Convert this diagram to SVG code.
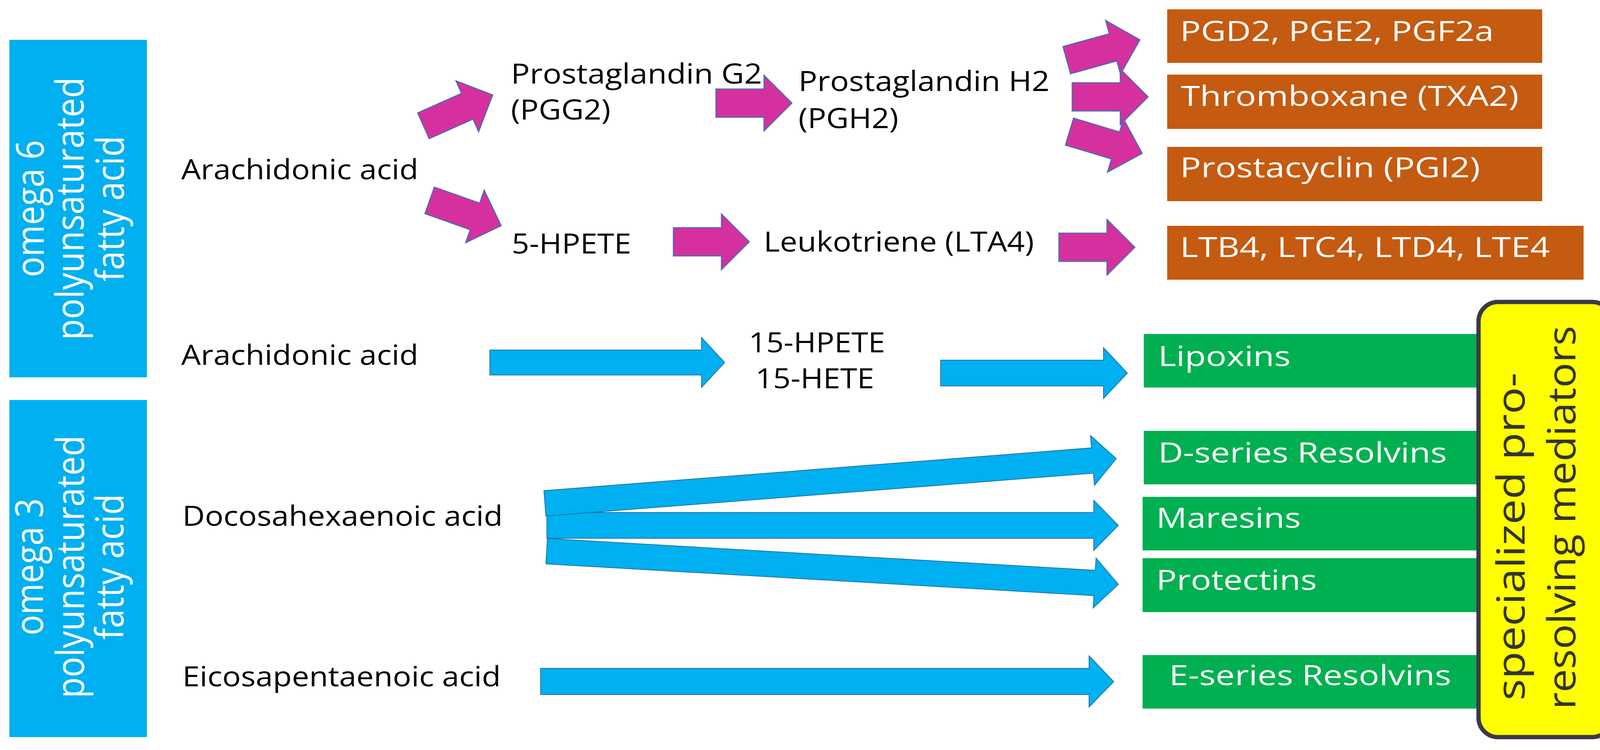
<svg xmlns="http://www.w3.org/2000/svg" xmlns:xlink="http://www.w3.org/1999/xlink" width="4157" height="1920" viewBox="0 0 4157 1920">
<style>
.lbl{font-family:"Open Sans","Noto Sans","Liberation Sans",sans-serif;font-size:72px;font-weight:500;fill:#000}
.wt{font-family:"Open Sans","Noto Sans","Liberation Sans",sans-serif;font-size:72px;font-weight:500;fill:#fff}
.vt{font-family:"Open Sans","Noto Sans","Liberation Sans",sans-serif;font-size:98px;fill:#fff;text-anchor:middle}
.yt{font-family:"Open Sans","Noto Sans","Liberation Sans",sans-serif;font-size:98px;font-weight:500;fill:#333}
.side{fill:#00b0f0}
.orange{fill:#c55a11}
.green{fill:#00b050}
.pink{fill:#d6309e;stroke:#4f6bb0;stroke-width:3;stroke-linejoin:miter}
.blue{fill:#00b0f0;stroke:#1f6fa8;stroke-width:2;stroke-linejoin:miter}
</style>
<defs>
<polygon id="pa" points="0,-36 123,-36 123,-71 194,0 123,71 123,36 0,36"/>
</defs>
<rect width="4157" height="1920" fill="#fff"/>

<g id="omega6">
<rect class="side" x="24" y="102" width="352" height="864"/>
<text class="vt" transform="translate(112,534) rotate(-90)" textLength="351" lengthAdjust="spacingAndGlyphs">omega 6</text>
<text class="vt" transform="translate(214,534) rotate(-90)" textLength="673" lengthAdjust="spacingAndGlyphs">polyunsaturated</text>
<text class="vt" transform="translate(317,534) rotate(-90)" textLength="373" lengthAdjust="spacingAndGlyphs">fatty acid</text>
</g>
<g id="omega3">
<rect class="side" x="24" y="1024" width="352" height="863"/>
<text class="vt" transform="translate(110,1451) rotate(-90)" textLength="351" lengthAdjust="spacingAndGlyphs">omega 3</text>
<text class="vt" transform="translate(215,1451) rotate(-90)" textLength="673" lengthAdjust="spacingAndGlyphs">polyunsaturated</text>
<text class="vt" transform="translate(316,1451) rotate(-90)" textLength="373" lengthAdjust="spacingAndGlyphs">fatty acid</text>
</g>

<g id="aa1"><text class="lbl" x="464" y="459" textLength="607" lengthAdjust="spacingAndGlyphs">Arachidonic acid</text></g>
<g id="pgg2"><text class="lbl" x="1308" y="214" textLength="643" lengthAdjust="spacingAndGlyphs">Prostaglandin G2</text><text class="lbl" x="1308" y="306" textLength="255" lengthAdjust="spacingAndGlyphs">(PGG2)</text></g>
<g id="pgh2"><text class="lbl" x="2044" y="233" textLength="643" lengthAdjust="spacingAndGlyphs">Prostaglandin H2</text><text class="lbl" x="2044" y="328" textLength="256" lengthAdjust="spacingAndGlyphs">(PGH2)</text></g>
<g id="hpete5"><text class="lbl" x="1310" y="649" textLength="306" lengthAdjust="spacingAndGlyphs">5-HPETE</text></g>
<g id="lta4"><text class="lbl" x="1955" y="644" textLength="692" lengthAdjust="spacingAndGlyphs">Leukotriene (LTA4)</text></g>
<g id="aa2"><text class="lbl" x="464" y="934" textLength="607" lengthAdjust="spacingAndGlyphs">Arachidonic acid</text></g>
<g id="hpete15"><text class="lbl" x="1917" y="902" textLength="349" lengthAdjust="spacingAndGlyphs">15-HPETE</text><text class="lbl" x="1934" y="994" textLength="304" lengthAdjust="spacingAndGlyphs">15-HETE</text></g>
<g id="dha"><text class="lbl" x="467" y="1346" textLength="820" lengthAdjust="spacingAndGlyphs">Docosahexaenoic acid</text></g>
<g id="epa"><text class="lbl" x="467" y="1757" textLength="815" lengthAdjust="spacingAndGlyphs">Eicosapentaenoic acid</text></g>

<g id="pgd2"><rect class="orange" x="2988" y="24" width="960" height="137"/><text class="wt" x="3021" y="105" textLength="803" lengthAdjust="spacingAndGlyphs">PGD2, PGE2, PGF2a</text></g>
<g id="txa2"><rect class="orange" x="2988" y="191" width="960" height="139"/><text class="wt" x="3023" y="271" textLength="865" lengthAdjust="spacingAndGlyphs">Thromboxane (TXA2)</text></g>
<g id="pgi2"><rect class="orange" x="2988" y="376" width="960" height="139"/><text class="wt" x="3021" y="454" textLength="768" lengthAdjust="spacingAndGlyphs">Prostacyclin (PGI2)</text></g>
<g id="ltb4"><rect class="orange" x="2988" y="578" width="1066" height="138"/><text class="wt" x="3021" y="658" textLength="947" lengthAdjust="spacingAndGlyphs">LTB4, LTC4, LTD4, LTE4</text></g>

<g id="lipoxins"><rect class="green" x="2928" y="855" width="862" height="137"/><text class="wt" x="2965" y="937" textLength="339" lengthAdjust="spacingAndGlyphs">Lipoxins</text></g>
<g id="dresolvins"><rect class="green" x="2928" y="1103" width="862" height="137"/><text class="wt" x="2965" y="1184" textLength="739" lengthAdjust="spacingAndGlyphs">D-series Resolvins</text></g>
<g id="maresins"><rect class="green" x="2925" y="1272" width="865" height="137"/><text class="wt" x="2960" y="1351" textLength="370" lengthAdjust="spacingAndGlyphs">Maresins</text></g>
<g id="protectins"><rect class="green" x="2925" y="1429" width="865" height="138"/><text class="wt" x="2960" y="1510" textLength="411" lengthAdjust="spacingAndGlyphs">Protectins</text></g>
<g id="eresolvins"><rect class="green" x="2925" y="1677" width="865" height="137"/><text class="wt" x="2993" y="1754" textLength="722" lengthAdjust="spacingAndGlyphs">E-series Resolvins</text></g>

<g id="spm">
<rect x="3785" y="773" width="341" height="1114" rx="50" ry="50" fill="#ffff00" stroke="#3a3a44" stroke-width="11"/>
<text class="yt" transform="translate(3903,1793) rotate(-90)" textLength="839" lengthAdjust="spacingAndGlyphs">specialized pro-</text>
<text class="yt" transform="translate(4033,1816) rotate(-90)" textLength="982" lengthAdjust="spacingAndGlyphs">resolving mediators</text>
</g>

<g id="connectors">
<use xlink:href="#pa" class="pink" transform="translate(1084,322) rotate(-24)"/>
<use xlink:href="#pa" class="pink" transform="translate(1100,513) rotate(19.5)"/>
<use xlink:href="#pa" class="pink" transform="translate(1833,264)"/>
<use xlink:href="#pa" class="pink" transform="translate(1724,619)"/>
<use xlink:href="#pa" class="pink" transform="translate(2711,633)"/>
<use xlink:href="#pa" class="pink" transform="translate(2731,154) rotate(-15.5)"/>
<use xlink:href="#pa" class="pink" transform="translate(2745,248)"/>
<use xlink:href="#pa" class="pink" transform="translate(2738,337) rotate(16.7)"/>
<polygon class="blue" points="1254,896 1796,896 1796,864 1855,928 1796,992 1796,960 1254,960"/>
<polygon class="blue" points="2408,922 2825,922 2825,890 2886,955 2825,1020 2825,988 2408,988"/>
<polygon class="blue" points="1400,1312 2800,1312 2800,1281 2863,1345 2800,1409 2800,1378 1400,1378"/>
<polygon class="blue" transform="translate(1395,1288.5) rotate(-4.47)" points="0,-32.5 1406,-32.5 1406,-64 1467,0 1406,64 1406,32.5 0,32.5"/>
<polygon class="blue" transform="translate(1399.5,1411) rotate(3.32)" points="0,-32.5 1405,-32.5 1405,-64 1466,0 1405,64 1405,32.5 0,32.5"/>
<polygon class="blue" points="1384,1711 2788,1711 2788,1679 2851,1745 2788,1810 2788,1778 1384,1778"/>
</g>
</svg>
